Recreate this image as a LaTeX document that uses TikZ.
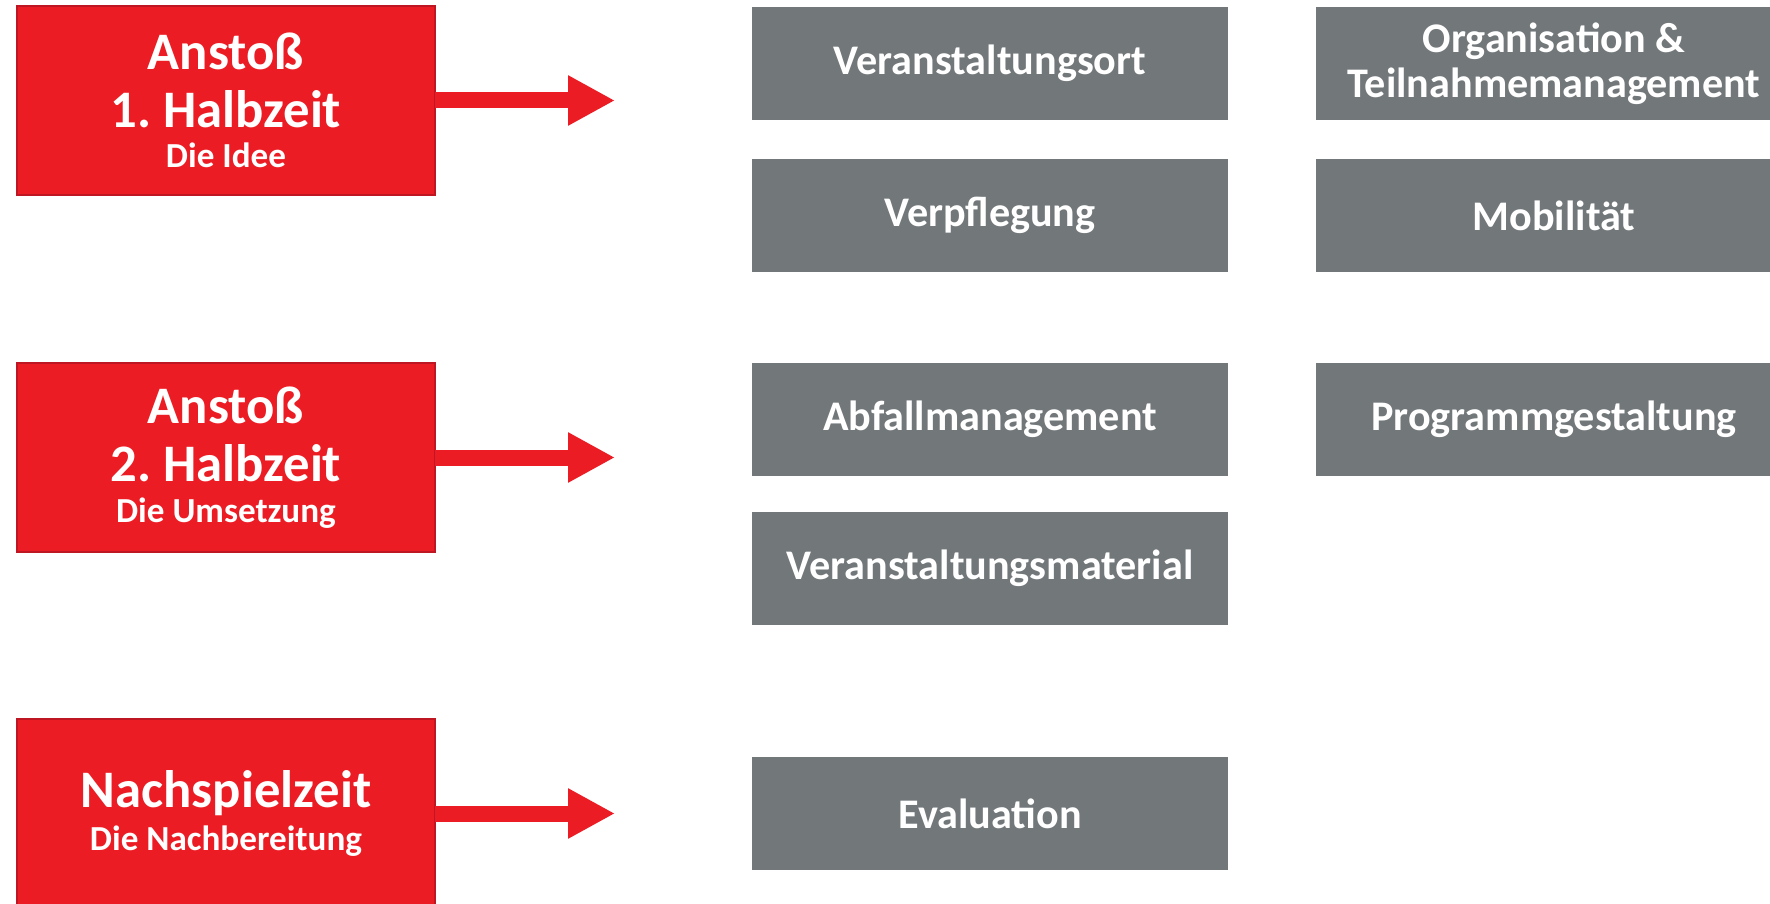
\documentclass[tikz,border=0pt]{standalone}
\usepackage{fontspec}
\setmainfont{Carlito}
\usetikzlibrary{positioning,arrows.meta}

\definecolor{kickred}{HTML}{EC1C24}
\definecolor{kickborder}{HTML}{BE1622}
\definecolor{topicgray}{HTML}{72777A}

\newcommand{\phasesub}[1]{{\fontsize{10}{12}\selectfont #1}}

\begin{document}
\begin{tikzpicture}[
            every node/.style={ outer sep=0pt, text=white, font=\bfseries },
            phase/.style={ draw=kickborder, line width=0.6pt, fill=kickred, minimum width=41.8mm, minimum height=18.9mm, align=center, font=\bfseries\fontsize{15}{16.5}\selectfont },
            topic/.style={ fill=topicgray, minimum width=47.6mm, minimum height=11.3mm, align=center, font=\bfseries\fontsize{12}{12.8}\selectfont },
            bigarrow/.style={ draw=kickred, line width=1.6mm, -{Triangle[length=4.7mm,width=4.7mm]} },
            node distance=3.9mm
        ]
        \useasboundingbox (0,0) rectangle (17.70,-9.04);

        % phases
        \node[phase] (half1) at (2.26,-1.005) {Anstoß\\1.\ Halbzeit\\[-5pt]\phasesub{Die Idee}};
        \node[phase, below=16.8mm of half1] (half2) {Anstoß\\2.\ Halbzeit\\[-5pt]\phasesub{Die Umsetzung}};
        \node[phase, below=16.7mm of half2] (after) {Nachspielzeit\\[-4.5pt]\phasesub{Die Nachbereitung}};

        \coordinate[right=18mm of half1.east] (tip1);
        \coordinate[right=18mm of half2.east] (tip2);
        \coordinate[right=18mm of after.east] (tip3);

        \draw[bigarrow] (half1.east) -- (tip1);
        \draw[bigarrow] (half2.east) -- (tip2);
        \draw[bigarrow] (after.east) -- (tip3);

        % topics
        \node[topic] (ort) at (9.90,-0.635) {Veranstaltungsort};
        \node[topic, below=of ort] (food) {Verpflegung};
        \node[topic, right=8.8mm of ort] (orga) {Organisation \&\\Teilnahmemanagement};
        \node[topic, right=8.8mm of food] (mobil) {Mobilität};

        \node[topic, anchor=north] (waste) at (ort |- half2.north) {Abfallmanagement};
        \node[topic, below=3.6mm of waste] (material) {Veranstaltungsmaterial};
        \node[topic, right=8.8mm of waste] (program) {Programmgestaltung};

        \node[topic] (eval) at (ort |- after) {Evaluation};
    \end{tikzpicture}
\end{document}
